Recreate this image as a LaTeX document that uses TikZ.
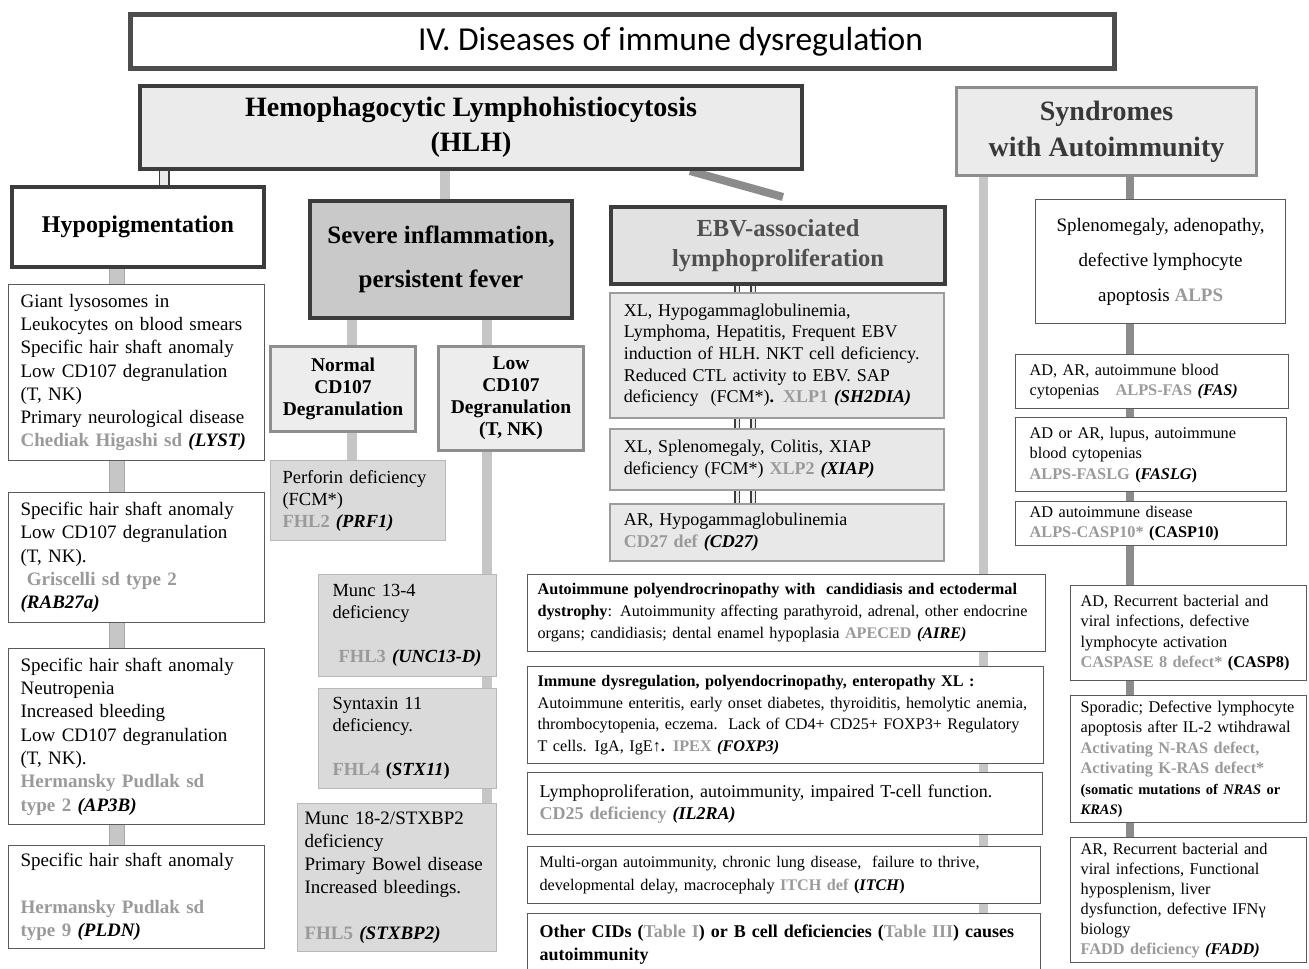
\documentclass[tikz,border=0pt]{standalone}
\usepackage{fontspec}
\setmainfont{Liberation Serif}
\newfontfamily\calfont{Carlito}
\usetikzlibrary{backgrounds}
\definecolor{dzc}{HTML}{9A9A9A}
\definecolor{tbord}{HTML}{4D4D4D}
\definecolor{dbord}{HTML}{3C3C3C}
\definecolor{mbord}{HTML}{8E8E8E}
\definecolor{lfill}{HTML}{EBEBEB}
\definecolor{sfill}{HTML}{C9C9C9}
\definecolor{efill}{HTML}{E2E2E2}
\definecolor{cfill}{HTML}{EDEDED}
\definecolor{gfill}{HTML}{DADADA}
\definecolor{gbord}{HTML}{B8B8B8}
\definecolor{xfill}{HTML}{E8E8E8}
\definecolor{xbord}{HTML}{9C9C9C}
\definecolor{wbord}{HTML}{5A5A5A}
\definecolor{lcon}{HTML}{C6C6C6}
\definecolor{lconb}{HTML}{A8A8A8}
\definecolor{dcon}{HTML}{8C8C8C}
\definecolor{synt}{HTML}{383838}
\definecolor{ebvt}{HTML}{505050}
\newcommand\dname[1]{\textcolor{dzc}{\textbf{#1}}}
\newcommand\gn[1]{\textbf{\textit{#1}}}
\newcommand\fs[2]{\fontsize{#1}{#2}\selectfont}
\tikzset{
  base/.style={anchor=north west, inner ysep=0pt},
  titlebox/.style={base, draw=tbord, line width=5pt, fill=white, align=center},
  hlhbox/.style={base, draw=dbord, line width=4pt, fill=lfill, align=center},
  syndbox/.style={base, draw=mbord, line width=3pt, fill=lfill, align=center, text=synt},
  hdbox/.style={base, draw=dbord, line width=4pt, fill=white, align=center},
  sevbox/.style={base, draw=dbord, line width=4pt, fill=sfill, align=center},
  ebvbox/.style={base, draw=dbord, line width=4pt, fill=efill, align=center, text=ebvt},
  cdbox/.style={base, draw=mbord, line width=3pt, fill=cfill, align=center},
  wbox/.style={base, draw=wbord, line width=1.2pt, fill=white, align=left, inner xsep=12pt},
  gbox/.style={base, draw=gbord, line width=1pt, fill=gfill, align=left, inner xsep=12pt},
  xbox/.style={base, draw=xbord, line width=1.5pt, fill=xfill, align=left, inner xsep=14pt},
  lconn/.style={line width=10pt, draw=lcon},
  lbarconn/.style={draw=lconb, line width=1pt, double=lcon, double distance=14pt},
  dconn/.style={line width=8pt, draw=dcon},
  dblconn/.style={draw=dbord, line width=1.5pt, double=lfill, double distance=8pt},
  ebvconn/.style={draw=dbord, line width=1.3pt, double=lfill, double distance=3pt},
}
\begin{document}
\begin{tikzpicture}[x=1pt,y=-1pt]
\useasboundingbox (0,0) rectangle (1309,969);

% ---------- headers ----------
\node[titlebox, minimum width=984pt, minimum height=54pt, font=\calfont\fs{33.5}{38}] (title) at (128,12) {\hspace*{96pt}IV. Diseases of immune dysregulation};
\node[hlhbox, minimum width=662pt, minimum height=83pt, font=\bfseries\fs{28}{35}] (hlh) at (138,84) {Hemophagocytic Lymphohistiocytosis\\(HLH)};
\node[syndbox, minimum width=300pt, minimum height=88pt, font=\bfseries\fs{28}{36}] (synd) at (955,86) {Syndromes\\with Autoimmunity};

% ---------- hypopigmentation column ----------
\node[hdbox, minimum width=252pt, minimum height=80pt, font=\bfseries\fs{24}{30}] (hypo) at (10,185) {Hypopigmentation};
\node[wbox, text width=232pt, minimum height=176pt, font=\fs{19}{23.3}] (l1) at (8,284) {Giant lysosomes in\\Leukocytes on blood smears\\Specific hair shaft anomaly\\Low CD107 degranulation\\(T, NK)\\Primary neurological disease\\\dname{Chediak Higashi sd} \gn{(LYST)}};
\node[wbox, text width=232pt, minimum height=130pt, font=\fs{19}{23.3}] (l2) at (8,492) {Specific hair shaft anomaly\\Low CD107 degranulation\\(T, NK).\\\ \dname{Griscelli sd type 2}\\\gn{(RAB27a)}};
\node[wbox, text width=232pt, minimum height=176pt, font=\fs{19}{23.3}] (l3) at (8,648) {Specific hair shaft anomaly\\Neutropenia\\Increased bleeding\\Low CD107 degranulation\\(T, NK).\\\dname{Hermansky Pudlak sd}\\\dname{type 2} \gn{(AP3B)}};
\node[wbox, text width=232pt, minimum height=103pt, font=\fs{19}{23.3}] (l4) at (8,845) {Specific hair shaft anomaly\\\mbox{}\\\dname{Hermansky Pudlak sd}\\\dname{type 9} \gn{(PLDN)}};

% ---------- severe inflammation column ----------
\node[sevbox, minimum width=262pt, minimum height=117pt, font=\bfseries\fs{25}{44}] (sev) at (308,199) {Severe inflammation,\\persistent fever};
\node[cdbox, minimum width=145pt, minimum height=85pt, font=\bfseries\fs{19.5}{22}] (norm) at (269,345) {Normal\\CD107\\Degranulation};
\node[cdbox, minimum width=145pt, minimum height=104pt, font=\bfseries\fs{19.5}{22}] (low) at (437,345) {Low\\CD107\\Degranulation\\(T, NK)};
\node[gbox, text width=151pt, minimum height=80pt, font=\fs{18.5}{22}] (perf) at (270,460) {Perforin deficiency\\(FCM*)\\\dname{FHL2} \gn{(PRF1)}};
\node[gbox, inner xsep=14pt, text width=150pt, minimum height=102pt, font=\fs{18.5}{22}] (m13) at (318,574) {Munc 13-4\\deficiency\\\mbox{}\\\ \dname{FHL3} \gn{(UNC13-D)}};
\node[gbox, inner xsep=14pt, text width=150pt, minimum height=100pt, font=\fs{18.5}{22}] (stx) at (318,688) {Syntaxin 11\\deficiency.\\\mbox{}\\\dname{FHL4} \textbf{(\textit{STX11})}};
\node[gbox, inner xsep=7pt, text width=185pt, minimum height=148pt, font=\fs{19}{23}] (m18) at (297,803) {Munc 18-2/STXBP2\\deficiency\\Primary Bowel disease\\Increased bleedings.\\\mbox{}\\\dname{FHL5} \gn{(STXBP2)}};

% ---------- EBV column ----------
\node[ebvbox, minimum width=334pt, minimum height=77pt, font=\bfseries\fs{24.5}{30}] (ebv) at (609,205) {EBV-associated\\lymphoproliferation};
\node[xbox, text width=306pt, minimum height=125pt, font=\fs{18}{21.7}] (xlp1) at (609,292) {XL, Hypogammaglobulinemia,\\Lymphoma, Hepatitis, Frequent EBV\\induction of HLH. NKT cell deficiency.\\Reduced CTL activity to EBV. SAP\\deficiency\ \ (FCM*)\textbf{.} \dname{XLP1} \gn{(SH2DIA)}};
\node[xbox, text width=306pt, minimum height=61pt, font=\fs{18}{21.7}] (xlp2) at (609,428) {XL, Splenomegaly, Colitis, XIAP\\deficiency (FCM*) \dname{XLP2} \gn{(XIAP)}};
\node[xbox, text width=306pt, minimum height=57pt, font=\fs{18}{21.7}] (cd27) at (609,503) {AR, Hypogammaglobulinemia\\\dname{CD27 def} \gn{(CD27)}};

% ---------- middle autoimmunity boxes ----------
\node[wbox, inner xsep=10pt, text width=498pt, minimum height=77pt, font=\fs{16.2}{22}] (apeced) at (527,574) {\textbf{Autoimmune polyendrocrinopathy with\ \ candidiasis and ectodermal}\\\textbf{dystrophy}: Autoimmunity affecting parathyroid, adrenal, other endocrine\\organs; candidiasis; dental enamel hypoplasia \dname{APECED} \gn{(AIRE)}};
\node[wbox, inner xsep=10pt, text width=496pt, minimum height=97pt, font=\fs{16.2}{21.7}] (ipex) at (527,666) {\textbf{Immune dysregulation, polyendocrinopathy, enteropathy XL :}\\Autoimmune enteritis, early onset diabetes, thyroiditis, hemolytic anemia,\\thrombocytopenia, eczema.\ \ Lack of CD4+ CD25+ FOXP3+ Regulatory\\T cells. IgA, IgE↑\textbf{.} \dname{IPEX} \gn{(FOXP3)}};
\node[wbox, inner xsep=12pt, text width=491pt, minimum height=62pt, font=\fs{18}{22}] (cd25) at (527,772) {Lymphoproliferation, autoimmunity, impaired T-cell function.\\\dname{CD25 deficiency} \gn{(IL2RA)}};
\node[wbox, inner xsep=12pt, text width=489pt, minimum height=57pt, font=\fs{16.2}{23}] (itch) at (527,846) {Multi-organ autoimmunity, chronic lung disease,\ \ failure to thrive,\\developmental delay, macrocephaly \dname{ITCH def} \textbf{(\textit{ITCH})}};
\node[wbox, inner xsep=12pt, text width=489pt, minimum height=62pt, font=\bfseries\fs{18}{23}] (other) at (527,913) {Other CIDs (\textcolor{dzc}{Table I}) or B cell deficiencies (\textcolor{dzc}{Table III}) causes\\autoimmunity};

% ---------- right column ----------
\node[wbox, align=center, inner xsep=0pt, minimum width=250pt, minimum height=124pt, font=\fs{19}{35}] (spleno) at (1035,199) {Splenomegaly, adenopathy,\\defective lymphocyte\\apoptosis \dname{ALPS}};
\node[wbox, inner xsep=14pt, text width=245pt, minimum height=54pt, font=\fs{16.3}{20.5}] (fas) at (1015,354) {AD, AR, autoimmune blood\\cytopenias\ \ \ \dname{ALPS-FAS} \gn{(FAS)}};
\node[wbox, inner xsep=14pt, text width=243pt, minimum height=74pt, font=\fs{16.3}{20.5}] (faslg) at (1015,417) {AD or AR, lupus, autoimmune\\blood cytopenias\\\dname{ALPS-FASLG} \textbf{(\textit{FASLG})}};
\node[wbox, inner xsep=14pt, text width=243pt, minimum height=44pt, font=\fs{16.3}{20.5}] (casp10) at (1015,501) {AD autoimmune disease\\\dname{ALPS-CASP10*} \textbf{(CASP10)}};
\node[wbox, inner xsep=10pt, text width=216pt, minimum height=95pt, font=\fs{16.3}{20.5}] (casp8) at (1070,585) {AD, Recurrent bacterial and\\viral infections, defective\\lymphocyte activation\\\dname{CASPASE 8 defect*} \textbf{(CASP8)}};
\node[wbox, inner xsep=10pt, text width=216pt, minimum height=127pt, font=\fs{16.3}{20.5}] (nras) at (1070,695) {Sporadic; Defective lymphocyte\\apoptosis after IL-2 wtihdrawal\\\dname{Activating N-RAS defect,}\\\dname{Activating K-RAS defect*}\\{\fs{14.5}{20}\textbf{(somatic mutations of \textit{NRAS} or}}\\{\fs{14.5}{20}\textbf{\textit{KRAS})}}};
\node[wbox, inner xsep=10pt, text width=216pt, minimum height=125pt, font=\fs{16.3}{20}] (fadd) at (1070,837) {AR, Recurrent bacterial and\\viral infections, Functional\\hyposplenism, liver\\dysfunction, defective IFNγ\\biology\\\dname{FADD deficiency} \gn{(FADD)}};

% ---------- connectors ----------
\begin{pgfonlayer}{background}
\coordinate (xh) at (164,0);
\coordinate (xs) at (445,0);
\coordinate (xl) at (117,0);
\coordinate (xn) at (352,0);
\coordinate (xo) at (487,0);
\coordinate (xe1) at (737,0);
\coordinate (xe2) at (753,0);
\coordinate (xm) at (983,0);
\coordinate (xr) at (1130,0);
\coordinate (xd) at (690,0);
\coordinate (dgend) at (783,197);
\draw[dblconn] (hlh.south -| xh) -- (hypo.north -| xh);
\draw[lconn] (hlh.south -| xs) -- (sev.north -| xs);
\draw[dconn] (hlh.south -| xd) -- (dgend);
\draw[lbarconn] (hypo.south -| xl) -- (l4.north -| xl);
\draw[lconn] (sev.south -| xn) -- (perf.north -| xn);
\draw[lconn] (sev.south -| xo) -- (m18.north -| xo);
\draw[ebvconn] (ebv.south -| xe1) -- (cd27.north -| xe1);
\draw[ebvconn] (ebv.south -| xe2) -- (cd27.north -| xe2);
\draw[lconn, line width=9pt] (synd.south -| xm) -- (other.north -| xm);
\draw[dconn] (synd.south -| xr) -- (fadd.north -| xr);
\end{pgfonlayer}
\end{tikzpicture}
\end{document}
